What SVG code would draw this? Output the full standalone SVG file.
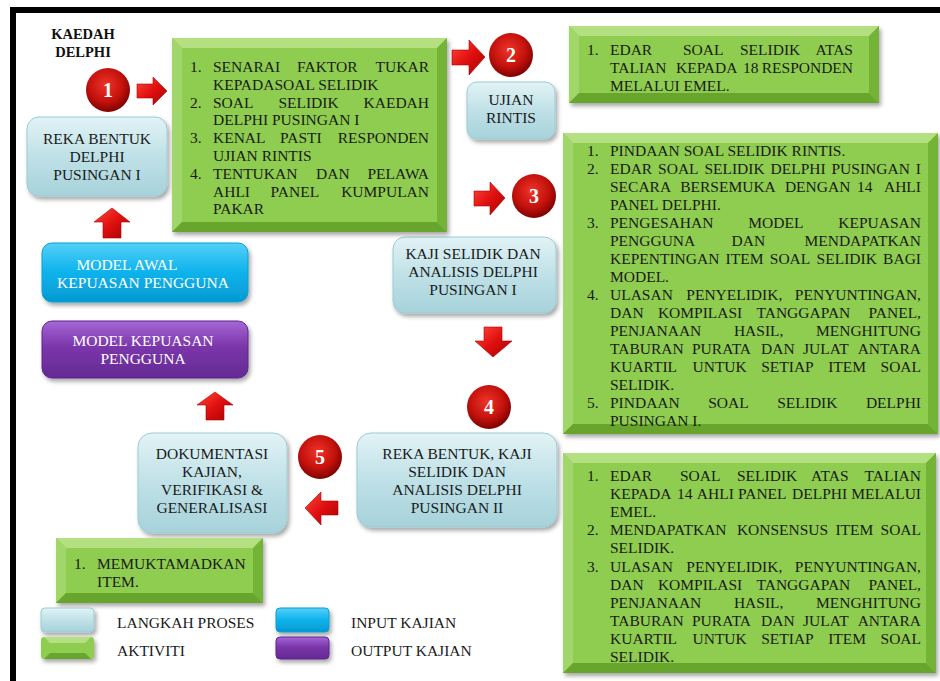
<svg xmlns="http://www.w3.org/2000/svg" width="940" height="681" viewBox="0 0 940 681">
<style>
.t{font-family:"Liberation Serif","Times New Roman",serif;font-size:15.5px;fill:#1a1a1a}
.c{text-anchor:middle}
.e{text-anchor:end}
.w{fill:#ffffff}
.num{font-family:"Liberation Serif","Times New Roman",serif;font-weight:bold;font-size:20px;fill:#ffffff;text-anchor:middle}
.title{font-family:"Liberation Serif","Times New Roman",serif;font-weight:bold;font-size:14.5px;fill:#111}
.gbase{fill:#8ecd50}
.bt{fill:#b4e081}
.bl{fill:#a0d66a}
.br{fill:#73b336}
.bb{fill:#67a52c}
.lb{fill:url(#gLB);stroke:#9ccbd3;stroke-width:1}
.blue{fill:url(#gBlue);stroke:#0a9fd6;stroke-width:1}
.purp{fill:url(#gPurp);stroke:#5e2590;stroke-width:1}
.circ{fill:url(#gRed)}
.arr{fill:url(#gArr);stroke:#b00000;stroke-width:0.6}
</style>
<defs>
<filter id="sh" x="-10%" y="-10%" width="130%" height="140%"><feDropShadow dx="2" dy="3" stdDeviation="2" flood-color="#000" flood-opacity="0.35"/></filter>
<linearGradient id="gLB" x1="0" y1="0" x2="0" y2="1"><stop offset="0" stop-color="#e2f3f6"/><stop offset="0.5" stop-color="#bfe1e7"/><stop offset="1" stop-color="#a7d2da"/></linearGradient>
<linearGradient id="gBlue" x1="0" y1="0" x2="0" y2="1"><stop offset="0" stop-color="#55d0f7"/><stop offset="0.45" stop-color="#12b5ee"/><stop offset="1" stop-color="#0399d2"/></linearGradient>
<linearGradient id="gPurp" x1="0" y1="0" x2="0" y2="1"><stop offset="0" stop-color="#a667d6"/><stop offset="0.45" stop-color="#7a36aa"/><stop offset="1" stop-color="#652a93"/></linearGradient>
<radialGradient id="gRed" cx="0.45" cy="0.38" r="0.65"><stop offset="0" stop-color="#ee3428"/><stop offset="0.6" stop-color="#c3110c"/><stop offset="1" stop-color="#760000"/></radialGradient>
<linearGradient id="gArr" x1="0" y1="0" x2="1" y2="1"><stop offset="0" stop-color="#ff4a3a"/><stop offset="0.5" stop-color="#e01010"/><stop offset="1" stop-color="#a80000"/></linearGradient>
</defs>
<rect x="0" y="0" width="940" height="681" fill="#ffffff"/>
<rect x="13" y="10" width="960" height="700" fill="none" stroke="#000" stroke-width="6"/>
<text class="title" x="83" y="39" text-anchor="middle">KAEDAH</text>
<text class="title" x="83" y="57" text-anchor="middle">DELPHI</text>

<g id="connectors">
<path class="arr" d="M137,84 H153 V77 L167,91 L153,105 V98 H137 Z"/>
<path class="arr" d="M452,50 H469 V40 L485,57 L469,75 V65 H452 Z"/>
<path class="arr" d="M474,191 H490 V182 L505,198 L490,215 V206 H474 Z"/>
<path class="arr" d="M484,327 H502 V341 H512 L493,357 L475,341 H484 Z"/>
<path class="arr" d="M338,501 H321 V492 L305,508 L321,525 V515 H338 Z"/>
<path class="arr" d="M112,208 L130,222 H121 V238 H103 V222 H94 Z"/>
<path class="arr" d="M215,392 L233,405 H224 V420 H206 V405 H197 Z"/>
</g>

<g id="num1"><circle class="circ" cx="108" cy="90" r="22"/><text class="num" x="108" y="97">1</text></g>
<g id="num2"><circle class="circ" cx="511" cy="55" r="22"/><text class="num" x="511" y="62">2</text></g>
<g id="num3"><circle class="circ" cx="534" cy="196" r="22"/><text class="num" x="534" y="203">3</text></g>
<g id="num4"><circle class="circ" cx="489" cy="407" r="22"/><text class="num" x="489" y="414">4</text></g>
<g id="num5"><circle class="circ" cx="320" cy="457" r="22"/><text class="num" x="320" y="464">5</text></g>

<g id="reka1">
<rect class="lb" x="27" y="117" width="140" height="79" rx="12" filter="url(#sh)"/>
<text class="t c" x="97" y="144">REKA BENTUK</text>
<text class="t c" x="97" y="162">DELPHI</text>
<text class="t c" x="97" y="180">PUSINGAN I</text>
</g>

<g id="ujian">
<rect class="lb" x="467" y="82" width="88" height="57" rx="10" filter="url(#sh)"/>
<text class="t c" x="511" y="105">UJIAN</text>
<text class="t c" x="511" y="123">RINTIS</text>
</g>

<g id="kaji1">
<rect class="lb" x="393" y="237" width="163" height="76" rx="12" filter="url(#sh)"/>
<text class="t c" x="473" y="259">KAJI SELIDIK DAN</text>
<text class="t c" x="473" y="277">ANALISIS DELPHI</text>
<text class="t c" x="473" y="295">PUSINGAN I</text>
</g>

<g id="dokumentasi">
<rect class="lb" x="138" y="433" width="149" height="100" rx="14" filter="url(#sh)"/>
<text class="t c" x="212" y="459">DOKUMENTASI</text>
<text class="t c" x="212" y="477">KAJIAN,</text>
<text class="t c" x="212" y="495">VERIFIKASI &amp;</text>
<text class="t c" x="212" y="513">GENERALISASI</text>
</g>

<g id="reka2">
<rect class="lb" x="357" y="433" width="200" height="94" rx="14" filter="url(#sh)"/>
<text class="t c" x="457" y="459">REKA BENTUK, KAJI</text>
<text class="t c" x="457" y="477">SELIDIK DAN</text>
<text class="t c" x="457" y="495">ANALISIS DELPHI</text>
<text class="t c" x="457" y="513">PUSINGAN II</text>
</g>

<g id="modelawal">
<rect class="blue" x="42" y="243" width="206" height="59" rx="10" filter="url(#sh)"/>
<text class="t c w" x="127" y="270">MODEL AWAL</text>
<text class="t c w" x="143" y="288">KEPUASAN  PENGGUNA</text>
</g>

<g id="modelkepuasan">
<rect class="purp" x="42" y="321" width="206" height="57" rx="10" filter="url(#sh)"/>
<text class="t c w" x="143" y="346">MODEL KEPUASAN</text>
<text class="t c w" x="143" y="364">PENGGUNA</text>
</g>

<g id="aktiviti1">
<g filter="url(#sh)"><rect class="gbase" x="172" y="38" width="275" height="194"/></g>
<polygon class="bt" points="172,38 447,38 437,48 182,48"/>
<polygon class="bl" points="172,38 182,48 182,222 172,232"/>
<polygon class="br" points="447,38 447,232 437,222 437,48"/>
<polygon class="bb" points="172,232 182,222 437,222 447,232"/>
<text class="t" x="190" y="72">1.</text>
<text class="t" y="72"><tspan x="213">SENARAI</tspan><tspan x="297">FAKTOR</tspan></text><text class="t e" x="429" y="72">TUKAR</text>
<text class="t" x="213" y="89.8">KEPADASOAL SELIDIK</text>
<text class="t" x="190" y="107.6">2.</text>
<text class="t" y="107.6"><tspan x="213">SOAL</tspan><tspan x="278.4">SELIDIK</tspan></text><text class="t e" x="429" y="107.6">KAEDAH</text>
<text class="t" x="213" y="125.4">DELPHI PUSINGAN I</text>
<text class="t" x="190" y="143.2">3.</text>
<text class="t" y="143.2"><tspan x="213">KENAL</tspan><tspan x="280">PASTI</tspan></text><text class="t e" x="429" y="143.2">RESPONDEN</text>
<text class="t" x="213" y="161">UJIAN RINTIS</text>
<text class="t" x="190" y="178.8">4.</text>
<text class="t" y="178.8"><tspan x="213">TENTUKAN</tspan><tspan x="316">DAN</tspan></text><text class="t e" x="429" y="178.8">PELAWA</text>
<text class="t" y="196.6"><tspan x="213">AHLI</tspan><tspan x="270.6">PANEL</tspan></text><text class="t e" x="429" y="196.6">KUMPULAN</text>
<text class="t" x="213" y="214.4">PAKAR</text>
</g>

<g id="aktiviti2">
<g filter="url(#sh)"><rect class="gbase" x="569" y="26" width="310" height="77"/></g>
<polygon class="bt" points="569,26 879,26 869,36 579,36"/>
<polygon class="bl" points="569,26 579,36 579,93 569,103"/>
<polygon class="br" points="879,26 879,103 869,93 869,36"/>
<polygon class="bb" points="569,103 579,93 869,93 879,103"/>
<text class="t" x="587" y="55">1.</text>
<text class="t" y="55"><tspan x="610">EDAR</tspan><tspan x="683">SOAL</tspan><tspan x="740">SELIDIK</tspan></text><text class="t e" x="853" y="55">ATAS</text>
<text class="t" y="73"><tspan x="610">TALIAN</tspan><tspan x="676">KEPADA</tspan><tspan x="743">18</tspan></text><text class="t e" x="853" y="73">RESPONDEN</text>
<text class="t" x="610" y="91">MELALUI EMEL.</text>
</g>

<g id="aktiviti3">
<g filter="url(#sh)"><rect class="gbase" x="563" y="133" width="375" height="301"/></g>
<polygon class="bt" points="563,133 938,133 928,143 573,143"/>
<polygon class="bl" points="563,133 573,143 573,424 563,434"/>
<polygon class="br" points="938,133 938,434 928,424 928,143"/>
<polygon class="bb" points="563,434 573,424 928,424 938,434"/>
<text class="t" x="587" y="155.5">1.</text>
<text class="t" x="610" y="155.5">PINDAAN SOAL SELIDIK RINTIS.</text>
<text class="t" x="587" y="173.5">2.</text>
<text class="t" y="173.5"><tspan x="610">EDAR</tspan><tspan x="658.1">SOAL</tspan><tspan x="704.4">SELIDIK</tspan><tspan x="770.6">DELPHI</tspan><tspan x="831.5">PUSINGAN</tspan></text><text class="t e" x="921" y="173.5">I</text>
<text class="t" y="191.5"><tspan x="610">SECARA</tspan><tspan x="680.2">BERSEMUKA</tspan><tspan x="784.9">DENGAN</tspan><tspan x="857">14</tspan></text><text class="t e" x="921" y="191.5">AHLI</text>
<text class="t" x="610" y="209.5">PANEL DELPHI.</text>
<text class="t" x="587" y="227.5">3.</text>
<text class="t" y="227.5"><tspan x="610">PENGESAHAN</tspan><tspan x="748.3">MODEL</tspan></text><text class="t e" x="921" y="227.5">KEPUASAN</text>
<text class="t" y="245.5"><tspan x="610">PENGGUNA</tspan><tspan x="731.5">DAN</tspan></text><text class="t e" x="921" y="245.5">MENDAPATKAN</text>
<text class="t" y="263.5"><tspan x="610">KEPENTINGAN</tspan><tspan x="725.6">ITEM</tspan><tspan x="769.8">SOAL</tspan><tspan x="816.6">SELIDIK</tspan></text><text class="t e" x="921" y="263.5">BAGI</text>
<text class="t" x="610" y="281.5">MODEL.</text>
<text class="t" x="587" y="299.5">4.</text>
<text class="t" y="299.5"><tspan x="610">ULASAN</tspan><tspan x="686.3">PENYELIDIK,</tspan></text><text class="t e" x="921" y="299.5">PENYUNTINGAN,</text>
<text class="t" y="317.5"><tspan x="610">DAN</tspan><tspan x="657.9">KOMPILASI</tspan><tspan x="756.5">TANGGAPAN</tspan></text><text class="t e" x="921" y="317.5">PANEL,</text>
<text class="t" y="335.5"><tspan x="610">PENJANAAN</tspan><tspan x="733.9">HASIL,</tspan></text><text class="t e" x="921" y="335.5">MENGHITUNG</text>
<text class="t" y="353.5"><tspan x="610">TABURAN</tspan><tspan x="692">PURATA</tspan><tspan x="761.1">DAN</tspan><tspan x="803">JULAT</tspan></text><text class="t e" x="921" y="353.5">ANTARA</text>
<text class="t" y="371.5"><tspan x="610">KUARTIL</tspan><tspan x="692.5">UNTUK</tspan><tspan x="761.2">SETIAP</tspan><tspan x="828.2">ITEM</tspan></text><text class="t e" x="921" y="371.5">SOAL</text>
<text class="t" x="610" y="389.5">SELIDIK.</text>
<text class="t" x="587" y="407.5">5.</text>
<text class="t" y="407.5"><tspan x="610">PINDAAN</tspan><tspan x="708.2">SOAL</tspan><tspan x="777.2">SELIDIK</tspan></text><text class="t e" x="921" y="407.5">DELPHI</text>
<text class="t" x="610" y="425.5">PUSINGAN I.</text>
</g>

<g id="aktiviti4">
<g filter="url(#sh)"><rect class="gbase" x="563" y="453" width="373" height="220"/></g>
<polygon class="bt" points="563,453 936,453 926,463 573,463"/>
<polygon class="bl" points="563,453 573,463 573,663 563,673"/>
<polygon class="br" points="936,453 936,673 926,663 926,463"/>
<polygon class="bb" points="563,673 573,663 926,663 936,673"/>
<text class="t" x="587" y="481">1.</text>
<text class="t" y="481"><tspan x="610">EDAR</tspan><tspan x="680">SOAL</tspan><tspan x="737">SELIDIK</tspan><tspan x="811">ATAS</tspan></text><text class="t e" x="921" y="481">TALIAN</text>
<text class="t" y="499.1"><tspan x="610">KEPADA</tspan><tspan x="677.1">14</tspan><tspan x="696.8">AHLI</tspan><tspan x="738">PANEL</tspan><tspan x="792.1">DELPHI</tspan></text><text class="t e" x="921" y="499.1">MELALUI</text>
<text class="t" x="610" y="517.2">EMEL.</text>
<text class="t" x="587" y="535.3">2.</text>
<text class="t" y="535.3"><tspan x="610">MENDAPATKAN</tspan><tspan x="736.9">KONSENSUS</tspan><tspan x="835.4">ITEM</tspan></text><text class="t e" x="921" y="535.3">SOAL</text>
<text class="t" x="610" y="553.4">SELIDIK.</text>
<text class="t" x="587" y="571.5">3.</text>
<text class="t" y="571.5"><tspan x="610">ULASAN</tspan><tspan x="686.3">PENYELIDIK,</tspan></text><text class="t e" x="921" y="571.5">PENYUNTINGAN,</text>
<text class="t" y="589.6"><tspan x="610">DAN</tspan><tspan x="657.9">KOMPILASI</tspan><tspan x="756.5">TANGGAPAN</tspan></text><text class="t e" x="921" y="589.6">PANEL,</text>
<text class="t" y="607.7"><tspan x="610">PENJANAAN</tspan><tspan x="733.9">HASIL,</tspan></text><text class="t e" x="921" y="607.7">MENGHITUNG</text>
<text class="t" y="625.8"><tspan x="610">TABURAN</tspan><tspan x="692">PURATA</tspan><tspan x="761.1">DAN</tspan><tspan x="803">JULAT</tspan></text><text class="t e" x="921" y="625.8">ANTARA</text>
<text class="t" y="643.9"><tspan x="610">KUARTIL</tspan><tspan x="692.5">UNTUK</tspan><tspan x="761.2">SETIAP</tspan><tspan x="828.2">ITEM</tspan></text><text class="t e" x="921" y="643.9">SOAL</text>
<text class="t" x="610" y="662">SELIDIK.</text>
</g>

<g id="aktiviti5">
<g filter="url(#sh)"><rect class="gbase" x="56" y="538" width="207" height="65"/></g>
<polygon class="bt" points="56,538 263,538 253,548 66,548"/>
<polygon class="bl" points="56,538 66,548 66,593 56,603"/>
<polygon class="br" points="263,538 263,603 253,593 253,548"/>
<polygon class="bb" points="56,603 66,593 253,593 263,603"/>
<text class="t" x="74" y="569">1.</text>
<text class="t" x="97" y="569">MEMUKTAMADKAN</text>
<text class="t" x="97" y="587">ITEM.</text>
</g>

<g id="legend">
<rect class="lb" x="41" y="608" width="53" height="24" rx="4" filter="url(#sh)"/>
<g filter="url(#sh)"><rect class="gbase" x="41" y="637" width="53" height="22" rx="3"/></g>
<polygon class="bt" points="44,637 91,637 85,643 50,643"/>
<polygon class="bb" points="44,659 50,653 85,653 91,659"/>
<rect class="blue" x="276" y="608" width="53" height="24" rx="4" filter="url(#sh)"/>
<rect class="purp" x="276" y="637" width="53" height="22" rx="4" filter="url(#sh)"/>
<text class="t" x="117" y="628">LANGKAH PROSES</text>
<text class="t" x="117" y="656">AKTIVITI</text>
<text class="t" x="351" y="628">INPUT KAJIAN</text>
<text class="t" x="351" y="656">OUTPUT KAJIAN</text>
</g>
</svg>
